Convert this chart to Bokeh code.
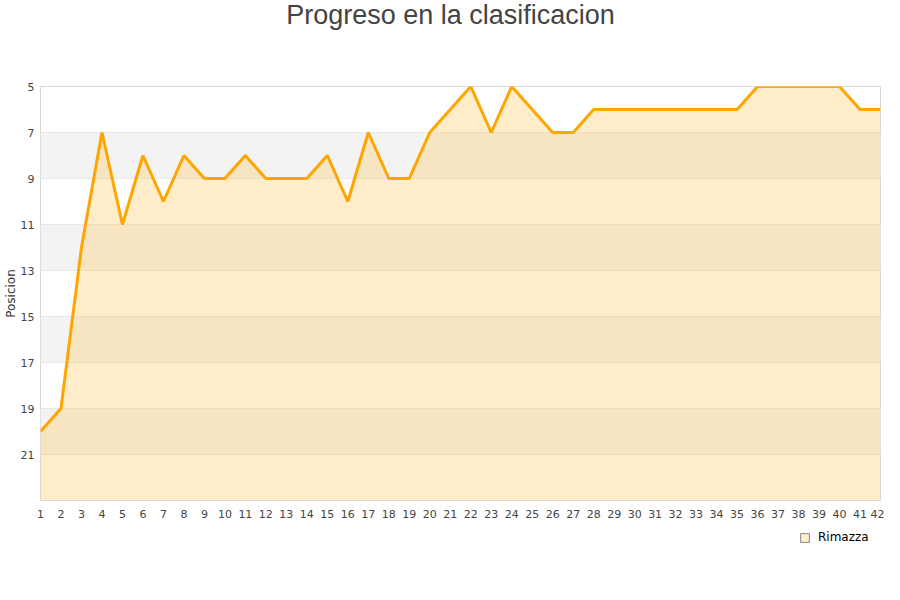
from bokeh.plotting import figure
from bokeh.layouts import column
from bokeh.models import Range1d, FixedTicker, BoxAnnotation, Legend, LegendItem
from bokeh.core.properties import value
from bokeh.embed import file_html
from bokeh.resources import INLINE

jornadas = list(range(1, 43))
posicion = [20, 19, 12, 7, 11, 8, 10, 8, 9, 9,
            8, 9, 9, 9, 8, 10, 7, 9, 9, 7,
            6, 5, 7, 5, 6, 7, 7, 6, 6, 6,
            6, 6, 6, 6, 6, 5, 5, 5, 5, 5,
            6, 6]
y_ticks = [5, 7, 9, 11, 13, 15, 17, 19, 21]
bands = [(7, 9), (11, 13), (15, 17), (19, 21)]
team = "Rimazza"
title = "Progreso en la clasificacion"
y_label = "Posicion"

W = 884


def bare(fig):
    fig.axis.visible = False
    fig.grid.visible = False
    fig.outline_line_color = None
    fig.background_fill_color = "white"
    fig.border_fill_color = "white"
    return fig


# ---- title strip (frame is aligned with the chart frame: pixels 40..880) ----
top = bare(figure(width=W, height=40, output_backend="svg", toolbar_location=None,
                  x_range=Range1d(40, 880), y_range=Range1d(40, 0),
                  min_border=0))
top.text(x=[450], y=[14], text=[title], text_align="center", text_baseline="middle",
         text_font=value("Liberation Sans"), text_font_size=value("27px"),
         text_color="#444444")

# ---- main chart ----
p = figure(width=W, height=490, output_backend="svg", toolbar_location=None,
           x_range=Range1d(1, 42), y_range=Range1d(23, 5),
           min_border_left=40, min_border_right=4, min_border_top=46, min_border_bottom=30)

p.outline_line_color = "#d8d8d8"
p.background_fill_color = "white"
p.border_fill_color = "white"

for lo, hi in bands:
    p.add_layout(BoxAnnotation(bottom=hi, top=lo, fill_color="#f3f3f3", fill_alpha=1,
                               line_alpha=0, level="underlay"))

p.xgrid.visible = False
p.ygrid.ticker = FixedTicker(ticks=y_ticks)
p.ygrid.grid_line_color = "#dddddd"
p.ygrid.level = "underlay"

p.yaxis.ticker = FixedTicker(ticks=y_ticks)
p.xaxis.ticker = FixedTicker(ticks=jornadas)
for ax in (p.xaxis[0], p.yaxis[0]):
    ax.axis_line_color = None
    ax.major_tick_line_color = None
    ax.minor_tick_line_color = None
    ax.major_tick_out = 0
    ax.major_tick_in = 0
    ax.minor_tick_out = 0
    ax.major_label_text_font = "DejaVu Sans"
    ax.major_label_text_font_size = "11px"
    ax.major_label_text_color = "#444444"
p.yaxis.major_label_standoff = 6
p.xaxis.major_label_standoff = 9
p.yaxis.axis_label = y_label
p.yaxis.axis_label_text_font = "DejaVu Sans"
p.yaxis.axis_label_text_font_size = "12px"
p.yaxis.axis_label_text_font_style = "normal"
p.yaxis.axis_label_text_color = "#333333"
p.yaxis.axis_label_standoff = 0

bottom = [23] * len(jornadas)
p.varea(x=jornadas, y1=posicion, y2=bottom, fill_color="#ffcc66", fill_alpha=0.35)
p.line(x=jornadas, y=posicion, line_color="#ffa500", line_width=3)

# ---- legend strip ----
leg = bare(figure(width=W, height=54, output_backend="svg", toolbar_location=None,
                  x_range=Range1d(40, 880), y_range=Range1d(54, 0), min_border=0))
# legend key renderer, kept outside the visible range
key = leg.quad(left=[0], right=[10], top=[-20], bottom=[-10], fill_color="#ffedc9",
               line_color="#888888")
legend = Legend(items=[LegendItem(label=team, renderers=[key])],
                location=(759, 40), orientation="vertical",
                background_fill_alpha=0, border_line_alpha=0,
                label_text_font="DejaVu Sans", label_text_font_size="12px",
                label_text_color="#000000", glyph_width=11, glyph_height=11,
                label_standoff=8, padding=0, margin=0, spacing=0,
                label_height=12)
leg.add_layout(legend, "center")

layout = column(top, p, leg, spacing=0)
open("out.html", "w").write(file_html(layout, INLINE))
